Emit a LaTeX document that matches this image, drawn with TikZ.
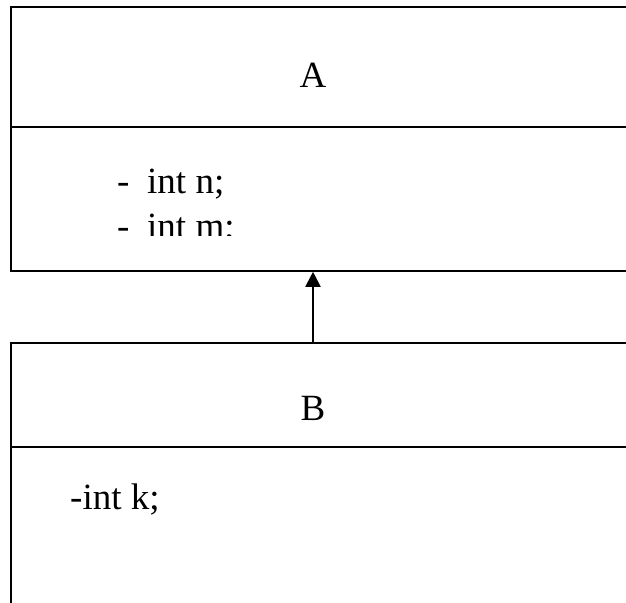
\documentclass[tikz,border=0pt]{standalone}
\usepackage{fontspec}
\setmainfont{Liberation Serif}
\usetikzlibrary{positioning,arrows.meta}

\begin{document}
\begin{tikzpicture}[
    x=1pt, y=-1pt,
    font=\fontsize{37}{44}\selectfont,
    part/.style={draw, line width=1.8pt, rectangle, anchor=north west,
                 minimum width=640pt, inner sep=0pt},
    attr/.style={anchor=base west, inner sep=0pt},
    inherit/.style={-{Triangle[length=15pt, width=15pt]}, line width=2pt},
  ]
  \useasboundingbox (0,0) rectangle (626,602);
  \clip (0,0) rectangle (626,602);

  % class A: name and attributes
  \node[part, minimum height=120pt] (headA) at (10,6) {};
  \node[part, minimum height=144pt] (bodyA) at (10,126) {};
  \node (nameA) at (313,75) {A};
  \node[attr] (dashN) at (117,193) {-};
  \node[attr] (attrN) at (147,193) {int n;};
  \begin{scope}
    \clip (0,200) rectangle (626,235);
    \node[attr] (dashM) at (117,238) {-};
    \node[attr] (attrM) at (147,238) {int m;};
  \end{scope}

  % class B
  \node[part, minimum height=104pt] (headB) at (10,342) {};
  \node[part, minimum height=200pt] (bodyB) at (10,446) {};
  \node (nameB) at (313,408) {B};
  \node[attr] (attrK) at (70,509) {-int k;};

  % B inherits from A
  \draw[inherit] (headB.north -| nameB) -- (bodyA.south -| nameA);
\end{tikzpicture}
\end{document}
